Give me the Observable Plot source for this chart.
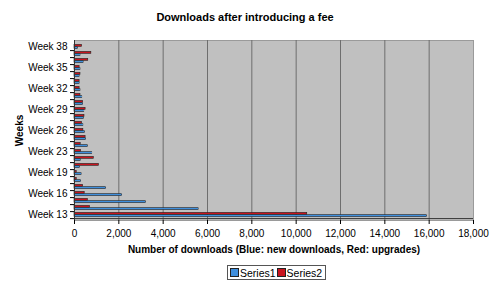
<!DOCTYPE html>
<html><head><meta charset="utf-8">
<script src="https://cdn.jsdelivr.net/npm/d3@7"></script>
<script src="https://cdn.jsdelivr.net/npm/@observablehq/plot@0.6"></script>
<style>
body{margin:0;background:#fff;font-family:"Liberation Sans",Arial,sans-serif;color:#000}
#wrap{position:relative;width:500px;height:285px;overflow:hidden}
#title{position:absolute;top:11px;left:0;width:490px;text-align:center;font-weight:bold;font-size:11px}
#chart{position:absolute;top:30px;left:0}
#legend{position:absolute;left:227px;top:265px;height:15px;border:1px solid #555;font-size:10.5px;display:flex;align-items:center;padding:0 2px;box-sizing:border-box}
#legend span.sw{display:inline-block;width:7px;height:7px;border:1px solid #222;margin-right:1px}
#legend span.it{margin-right:1px}
g[aria-label="x-axis label"], g[aria-label="y-axis label"]{font-weight:bold}
</style>
</head><body>
<div id="wrap">
<div id="title">Downloads after introducing a fee</div>
<div id="chart"></div>
<div id="legend"></div>
</div>
<script>
const weeks = ["Week 13","Week 14","Week 15","Week 16","Week 17","Week 18","Week 19","Week 20","Week 21","Week 23","Week 24","Week 25","Week 26","Week 27","Week 28","Week 29","Week 30","Week 31","Week 32","Week 33","Week 34","Week 35","Week 36","Week 37","Week 38"];
const series1 = [15900,5600,3220,2150,1430,300,320,240,280,800,600,520,470,400,420,440,390,350,270,230,230,270,410,270,150];
const series2 = [10500,700,600,460,390,100,100,1100,870,300,280,500,400,340,450,500,390,270,230,230,270,230,620,760,340];
const seriesNames = ["Series1","Series2"];
const seriesColors = ["#3f8fdd","#c8141e"];
const xTicks = [0,2000,4000,6000,8000,10000,12000,14000,16000,18000];
const yTickLabels = ["Week 13","Week 16","Week 19","Week 23","Week 26","Week 29","Week 32","Week 35","Week 38"];
const xTitle = "Number of downloads (Blue: new downloads, Red: upgrades)";
const yTitle = "Weeks";

const data = weeks.map((w,i)=>({week:w, s1:series1[i], s2:series2[i]}));

const chart = Plot.plot({
  width:500, height:228,
  marginLeft:74, marginRight:27, marginTop:10, marginBottom:38,
  style:{fontFamily:"Liberation Sans, Arial, sans-serif", fontSize:"10px", color:"#000", background:"transparent"},
  x:{domain:[0,18000]},
  y:{domain:weeks.slice().reverse(), padding:0},
  marks:[
    Plot.frame({fill:"#c0c0c0", stroke:"#9a9a9a"}),
    Plot.gridX(xTicks.slice(1,-1), {stroke:"#6e6e6e", strokeOpacity:1, strokeWidth:1}),
    Plot.barX(data, {x:"s2", y:"week", fill:seriesColors[1], stroke:"#222", strokeWidth:0.6, insetTop:1.4, insetBottom:3.7}),
    Plot.barX(data, {x:"s1", y:"week", fill:seriesColors[0], stroke:"#222", strokeWidth:0.6, insetTop:3.7, insetBottom:1.4}),
    Plot.axisX(xTicks, {tickFormat:d3.format(","), tickSize:4, tickPadding:5, label:xTitle, labelAnchor:"center", labelOffset:32, labelArrow:"none"}),
    Plot.axisY(weeks, {tickSize:4, tickFormat:()=>"", dy:3.6, label:null}),
    Plot.axisY(yTickLabels, {tickSize:0, tickPadding:7, label:yTitle, labelAnchor:"center", labelOffset:59, labelArrow:"none"}),
    Plot.ruleX([0], {stroke:"#333"}),
    Plot.ruleY([weeks[0]], {stroke:"#333", dy:3.6})
  ]
});
document.getElementById("chart").appendChild(chart);

const leg = document.getElementById("legend");
seriesNames.forEach((n,i)=>{
  const sw = document.createElement("span"); sw.className="sw"; sw.style.background=seriesColors[i];
  const t = document.createElement("span"); t.className="it"; t.textContent=n;
  leg.appendChild(sw); leg.appendChild(t);
});
</script>
</body></html>
